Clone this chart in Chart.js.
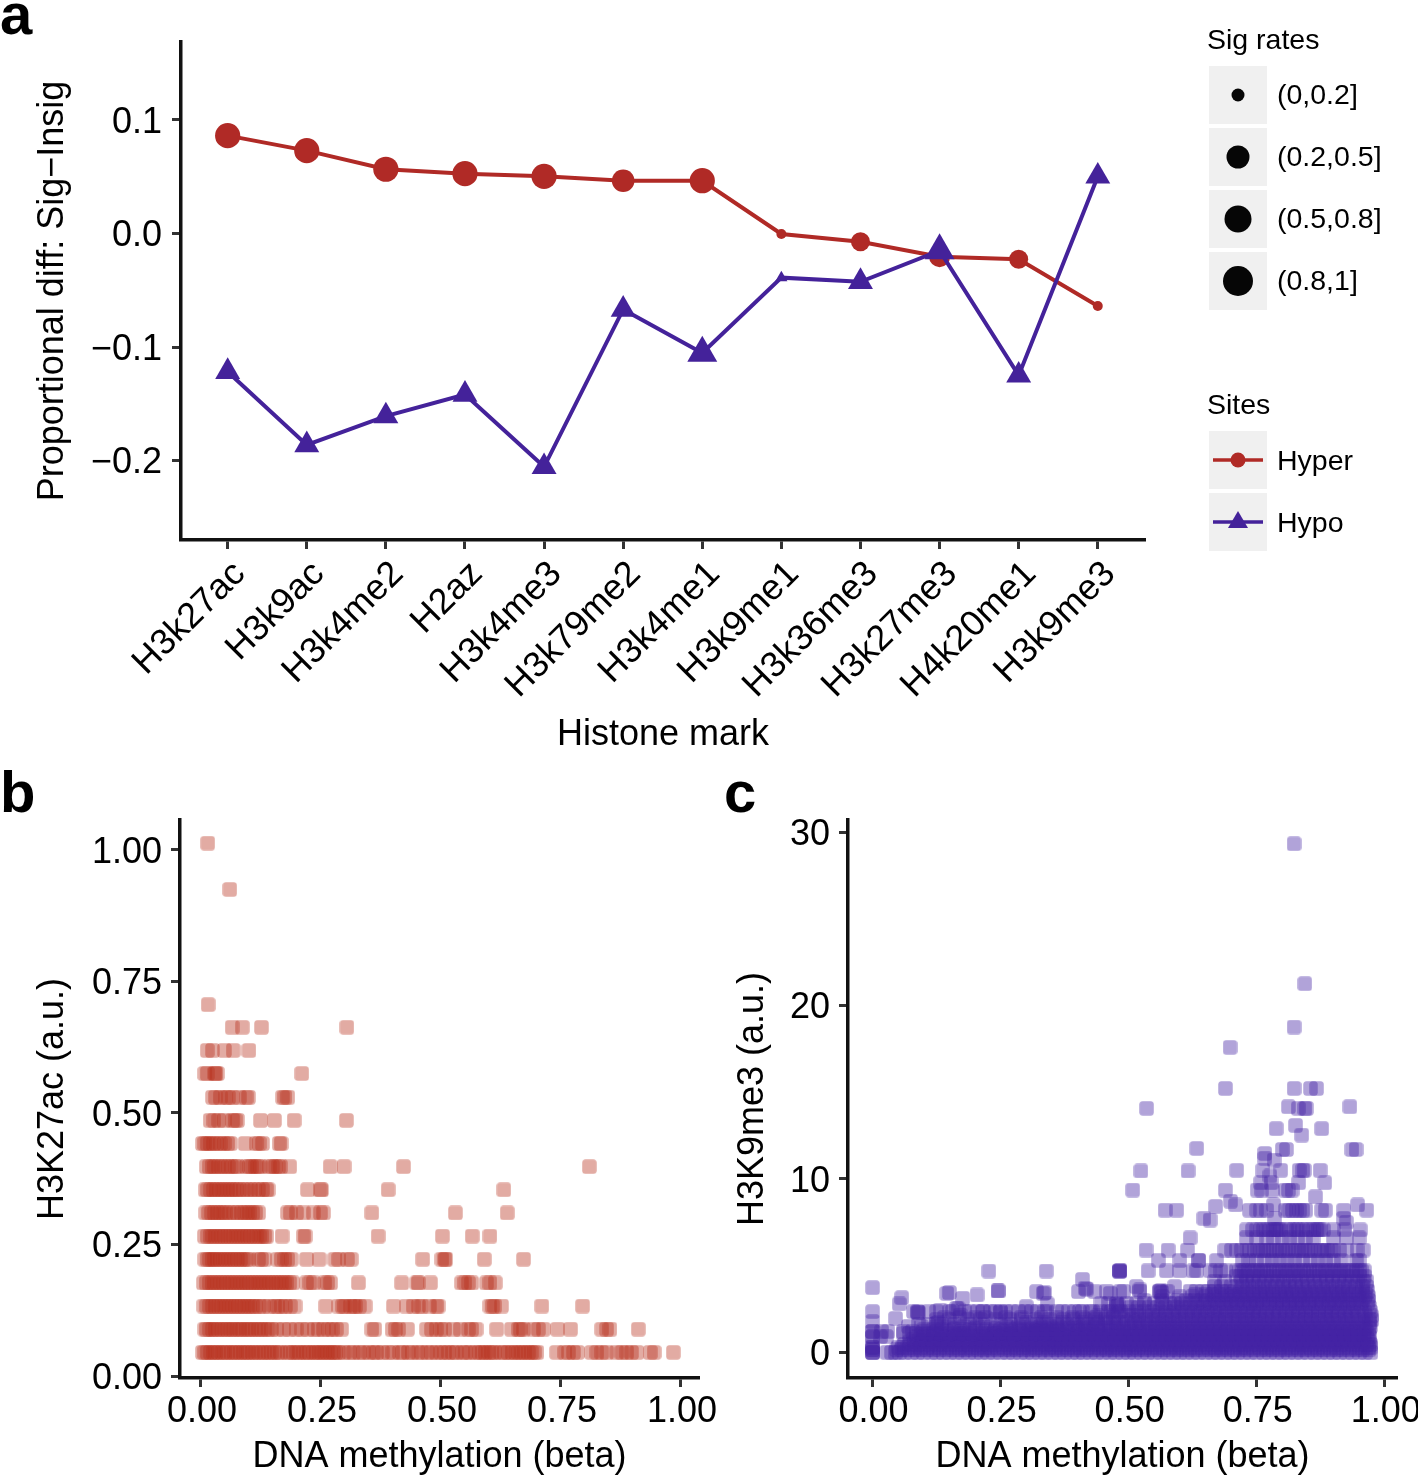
<!DOCTYPE html>
<html>
<head>
<meta charset="utf-8">
<title>Histone marks and DNA methylation</title>
<script src="https://cdn.jsdelivr.net/npm/chart.js@4"></script>
<style>
html, body { margin: 0; padding: 0; background: #fff; }
#page { position: relative; width: 1418px; height: 1477px; overflow: hidden; }
canvas { position: absolute; display: block; }
.letter { position: absolute; font: bold 58px/58px "Liberation Sans", Arial, sans-serif; color: #000; }
</style>
</head>
<body>
<div id="page">
  <canvas id="histoneChart" width="1418" height="760" style="left:0;top:0;width:1418px;height:760px"></canvas>
  <canvas id="acChart" width="720" height="719" style="left:0;top:760px;width:720px;height:719px"></canvas>
  <canvas id="meChart" width="698" height="719" style="left:720px;top:760px;width:698px;height:719px"></canvas>
  <div class="letter" style="left:0;top:-15px">a</div>
  <div class="letter" style="left:0;top:763px">b</div>
  <div class="letter" style="left:724px;top:763px">c</div>
</div>
<script>
// panel a
const histoneMarks = ["H3k27ac","H3k9ac","H3k4me2","H2az","H3k4me3","H3k79me2","H3k4me1","H3k9me1","H3k36me3","H3k27me3","H4k20me1","H3k9me3"];
const hyperValues = [0.0862,0.0730,0.0566,0.0527,0.0504,0.0465,0.0465,-0.0004,-0.0072,-0.0204,-0.0227,-0.0639];
const hypoValues = [-0.1218,-0.1863,-0.1608,-0.1418,-0.2055,-0.0669,-0.1053,-0.0389,-0.0425,-0.0151,-0.125,0.0503];
const hyperRadius = [12.6,12.6,12.6,12.6,12.6,11.3,12.6,5,9.5,10.5,9.5,5];
const hypoRadius = [14.4,14.4,14.4,14.4,14.4,14.4,17.3,7,14.4,17.3,14.4,14.4];
const histoneYTicks = [-0.2,-0.1,0,0.1];
const sigLabels = ["(0,0.2]","(0.2,0.5]","(0.5,0.8]","(0.8,1]"];
const sigRadius = [6.5,11.5,13.5,15];
const siteLabels = ["Hyper","Hypo"];

// panel b, one list of x values per y level
const acRowY = [0.045,0.089,0.133,0.177,0.222,0.266,0.31,0.354,0.398,0.442,0.486,0.53,0.575,0.619,0.663,0.706,0.925,1.013];
const acX01 = [0.003,0.008,0.013,0.02,0.026,0.031,0.037,0.044,0.05,0.056,0.063,0.069,0.075,0.082,0.088,0.094,0.1,0.107,0.113,0.12,0.127,0.133,0.14,0.146,0.153,0.16,0.166,0.18,0.186,0.193,0.2,0.206,0.214,0.22,0.226,0.234,0.24,0.246,0.252,0.258,0.264,0.27,0.276,0.281,0.287,0.298,0.31,0.318,0.33,0.338,0.35,0.36,0.366,0.378,0.39,0.4,0.414,0.42,0.432,0.44,0.452,0.46,0.471,0.48,0.49,0.5,0.508,0.516,0.525,0.532,0.545,0.552,0.56,0.572,0.58,0.586,0.592,0.6,0.606,0.612,0.625,0.632,0.64,0.648,0.655,0.662,0.668,0.675,0.682,0.688,0.694,0.7,0.741,0.758,0.766,0.776,0.784,0.814,0.825,0.835,0.845,0.866,0.877,0.887,0.897,0.908,0.936,0.944,0.984];
const acX02 = [0.008,0.012,0.018,0.024,0.03,0.036,0.043,0.05,0.055,0.062,0.068,0.075,0.081,0.087,0.094,0.1,0.106,0.113,0.12,0.126,0.133,0.14,0.147,0.158,0.172,0.184,0.198,0.21,0.222,0.236,0.244,0.255,0.265,0.273,0.282,0.293,0.356,0.362,0.398,0.405,0.412,0.43,0.47,0.48,0.49,0.5,0.508,0.526,0.54,0.557,0.564,0.573,0.616,0.647,0.661,0.665,0.672,0.693,0.703,0.713,0.743,0.77,0.835,0.845,0.852,0.911];
const acX03 = [0.006,0.012,0.018,0.024,0.03,0.036,0.042,0.048,0.054,0.06,0.066,0.072,0.078,0.084,0.09,0.096,0.102,0.108,0.114,0.122,0.13,0.142,0.154,0.16,0.168,0.176,0.186,0.196,0.26,0.287,0.295,0.3,0.312,0.318,0.322,0.33,0.342,0.401,0.428,0.442,0.453,0.46,0.476,0.49,0.494,0.602,0.607,0.612,0.626,0.71,0.795];
const acX04 = [0.005,0.011,0.017,0.023,0.029,0.035,0.041,0.047,0.053,0.059,0.065,0.071,0.077,0.083,0.089,0.095,0.101,0.107,0.113,0.119,0.125,0.131,0.137,0.143,0.149,0.155,0.161,0.167,0.173,0.179,0.185,0.191,0.22,0.227,0.234,0.258,0.264,0.27,0.328,0.418,0.45,0.453,0.478,0.543,0.55,0.557,0.564,0.595,0.602,0.613];
const acX05 = [0.008,0.013,0.018,0.023,0.028,0.034,0.04,0.046,0.052,0.058,0.064,0.07,0.076,0.082,0.088,0.094,0.1,0.12,0.126,0.133,0.16,0.167,0.175,0.181,0.188,0.22,0.246,0.279,0.287,0.305,0.313,0.462,0.502,0.508,0.51,0.59,0.672];
const acX06 = [0.007,0.013,0.019,0.025,0.031,0.037,0.043,0.049,0.055,0.061,0.067,0.073,0.079,0.085,0.091,0.097,0.103,0.109,0.115,0.121,0.127,0.133,0.137,0.169,0.213,0.217,0.369,0.503,0.565,0.602];
const acX07 = [0.01,0.016,0.022,0.028,0.034,0.04,0.046,0.052,0.06,0.068,0.076,0.084,0.09,0.096,0.102,0.108,0.114,0.12,0.18,0.186,0.199,0.213,0.234,0.249,0.255,0.356,0.53,0.638];
const acX08 = [0.009,0.014,0.02,0.026,0.032,0.038,0.044,0.05,0.056,0.062,0.068,0.074,0.08,0.088,0.096,0.104,0.112,0.12,0.128,0.136,0.14,0.222,0.248,0.251,0.39,0.631];
const acX09 = [0.011,0.017,0.023,0.029,0.036,0.043,0.05,0.057,0.064,0.071,0.076,0.095,0.101,0.106,0.113,0.118,0.123,0.142,0.149,0.155,0.161,0.166,0.185,0.269,0.298,0.422,0.809];
const acX10 = [0.003,0.008,0.013,0.019,0.026,0.033,0.04,0.048,0.056,0.061,0.092,0.115,0.121,0.128,0.163,0.167];
const acX11 = [0.019,0.027,0.037,0.048,0.066,0.071,0.076,0.124,0.153,0.194,0.303];
const acX12 = [0.024,0.03,0.04,0.052,0.057,0.066,0.08,0.094,0.099,0.17,0.175,0.181];
const acX13 = [0.008,0.013,0.029,0.031,0.034,0.21];
const acX14 = [0.013,0.024,0.049,0.067,0.1];
const acX15 = [0.065,0.086,0.126,0.304];
const acX16 = [0.015];
const acX17 = [0.06];
const acX18 = [0.014];
const acRowX = [acX01,acX02,acX03,acX04,acX05,acX06,acX07,acX08,acX09,acX10,acX11,acX12,acX13,acX14,acX15,acX16,acX17,acX18];
const acXTicks = [0,0.25,0.5,0.75,1];
const acYTicks = [0,0.25,0.5,0.75,1];

// panel c, dense levels first, then the loose points
const meRowY = [0,0.3,0.6,0.9,1.2,1.5,1.88,2.35,2.82,3.2,3.53,4.1,4.7,5.3,5.9,6.6,7.06,0.15,0.45,0.75,1.05,1.35,1.7,2.1,2.6,3.0,3.35,3.8,4.4,1.1,1.3,1.6,2.0,2.35,5.9,7.06,4.7];
const meX01 = [0,0,0,0.028,0.037,0.044,0.052,0.063,0.076,0.088,0.1,0.114,0.125,0.138,0.15,0.163,0.175,0.188,0.2,0.212,0.225,0.237,0.25,0.263,0.275,0.288,0.3,0.312,0.325,0.337,0.35,0.363,0.375,0.388,0.4,0.412,0.425,0.437,0.45,0.463,0.475,0.488,0.5,0.512,0.525,0.537,0.55,0.563,0.575,0.588,0.6,0.612,0.625,0.637,0.65,0.663,0.675,0.688,0.7,0.712,0.725,0.737,0.75,0.763,0.775,0.788,0.8,0.812,0.825,0.837,0.85,0.863,0.875,0.888,0.9,0.912,0.925,0.937,0.95,0.962,0.973];
const meX02 = [0,0,0.05,0.058,0.069,0.081,0.094,0.107,0.119,0.131,0.144,0.156,0.169,0.181,0.194,0.206,0.219,0.231,0.244,0.256,0.269,0.281,0.294,0.306,0.319,0.331,0.344,0.356,0.369,0.381,0.394,0.406,0.419,0.431,0.444,0.456,0.469,0.481,0.494,0.506,0.519,0.531,0.544,0.556,0.569,0.581,0.594,0.606,0.619,0.631,0.644,0.656,0.669,0.681,0.694,0.706,0.719,0.731,0.744,0.756,0.769,0.781,0.794,0.806,0.819,0.831,0.844,0.856,0.869,0.881,0.894,0.906,0.919,0.931,0.944,0.956,0.968,0.973];
const meX03 = [0.072,0.082,0.095,0.108,0.12,0.133,0.145,0.158,0.17,0.183,0.195,0.208,0.22,0.233,0.245,0.258,0.27,0.283,0.295,0.308,0.32,0.333,0.345,0.358,0.37,0.383,0.395,0.408,0.42,0.433,0.445,0.458,0.47,0.483,0.495,0.508,0.52,0.533,0.545,0.558,0.57,0.583,0.595,0.608,0.62,0.633,0.645,0.658,0.67,0.683,0.695,0.708,0.72,0.733,0.745,0.758,0.77,0.783,0.795,0.808,0.82,0.833,0.845,0.858,0.87,0.883,0.895,0.908,0.92,0.933,0.945,0.958,0.97];
const meX04 = [0,0,0.015,0.027,0.086,0.098,0.113,0.127,0.14,0.154,0.166,0.18,0.193,0.207,0.219,0.232,0.246,0.259,0.272,0.285,0.298,0.311,0.324,0.337,0.35,0.362,0.374,0.387,0.399,0.411,0.423,0.436,0.448,0.46,0.473,0.485,0.497,0.51,0.522,0.535,0.547,0.56,0.572,0.584,0.597,0.61,0.622,0.634,0.647,0.66,0.672,0.684,0.697,0.71,0.722,0.734,0.747,0.76,0.772,0.784,0.797,0.81,0.822,0.834,0.847,0.86,0.872,0.884,0.897,0.91,0.922,0.934,0.947,0.96,0.97];
const meX05 = [0,0,0.018,0.03,0.06,0.078,0.1,0.125,0.145,0.172,0.2,0.22,0.238,0.256,0.272,0.29,0.306,0.32,0.336,0.35,0.363,0.376,0.39,0.402,0.415,0.428,0.44,0.453,0.466,0.478,0.49,0.503,0.515,0.527,0.54,0.552,0.565,0.577,0.59,0.602,0.615,0.627,0.64,0.652,0.665,0.677,0.69,0.702,0.715,0.727,0.74,0.752,0.765,0.777,0.79,0.802,0.815,0.827,0.84,0.852,0.865,0.877,0.89,0.902,0.915,0.927,0.94,0.952,0.965];
const meX06 = [0.07,0.095,0.125,0.148,0.178,0.205,0.232,0.262,0.285,0.31,0.328,0.346,0.362,0.38,0.396,0.412,0.428,0.445,0.46,0.476,0.49,0.506,0.522,0.536,0.552,0.566,0.58,0.594,0.61,0.624,0.638,0.652,0.667,0.68,0.695,0.71,0.724,0.738,0.752,0.766,0.78,0.794,0.808,0.822,0.836,0.85,0.864,0.878,0.892,0.906,0.92,0.934,0.948,0.962,0.972];
const meX07 = [0.125,0.15,0.185,0.21,0.24,0.268,0.29,0.318,0.345,0.372,0.392,0.415,0.436,0.455,0.475,0.49,0.506,0.52,0.535,0.55,0.565,0.578,0.592,0.606,0.62,0.634,0.648,0.662,0.676,0.69,0.704,0.718,0.732,0.746,0.76,0.774,0.788,0.802,0.816,0.83,0.844,0.858,0.872,0.886,0.9,0.914,0.928,0.942,0.956,0.97,0.975];
const meX08 = [0.088,0.125,0.156,0.18,0.205,0.23,0.25,0.272,0.298,0.322,0.34,0.36,0.382,0.404,0.425,0.445,0.466,0.484,0.5,0.516,0.53,0.546,0.56,0.574,0.588,0.602,0.614,0.628,0.64,0.654,0.667,0.68,0.692,0.706,0.718,0.732,0.744,0.756,0.77,0.782,0.794,0.808,0.82,0.832,0.846,0.858,0.87,0.884,0.896,0.908,0.922,0.934,0.946,0.96,0.972];
const meX09 = [0.446,0.46,0.477,0.496,0.515,0.531,0.55,0.566,0.58,0.59,0.604,0.62,0.632,0.648,0.66,0.676,0.69,0.7,0.712,0.726,0.738,0.75,0.762,0.776,0.788,0.8,0.814,0.826,0.838,0.852,0.864,0.876,0.89,0.902,0.914,0.928,0.94,0.952,0.966];
const meX10 = [0.566,0.6,0.624,0.65,0.668,0.68,0.694,0.706,0.72,0.732,0.744,0.758,0.77,0.782,0.796,0.808,0.82,0.834,0.846,0.858,0.872,0.884,0.896,0.91,0.922,0.934,0.948,0.96,0.968];
const meX11 = [0.457,0.49,0.522,0.56,0.575,0.62,0.632,0.645,0.656,0.668,0.682,0.694,0.706,0.718,0.73,0.744,0.756,0.768,0.78,0.794,0.806,0.818,0.83,0.844,0.856,0.868,0.88,0.894,0.906,0.918,0.93,0.944,0.956,0.967];
const meX12 = [0.668,0.688,0.72,0.73,0.742,0.754,0.766,0.778,0.79,0.802,0.814,0.826,0.838,0.85,0.862,0.874,0.886,0.898,0.91,0.922,0.934,0.946,0.958,0.965];
const meX13 = [0.483,0.483,0.538,0.574,0.6,0.626,0.633,0.66,0.67,0.68,0.69,0.717,0.727,0.74,0.752,0.764,0.776,0.788,0.8,0.812,0.824,0.836,0.848,0.86,0.872,0.884,0.896,0.908,0.92,0.932,0.944,0.954,0.96];
const meX14 = [0.558,0.6,0.637,0.637,0.672,0.722,0.735,0.75,0.766,0.78,0.795,0.81,0.824,0.84,0.855,0.87,0.885,0.9,0.915,0.945,0.95];
const meX15 = [0.534,0.577,0.615,0.688,0.701,0.711,0.73,0.745,0.758,0.77,0.782,0.794,0.806,0.82,0.832,0.844,0.856,0.87,0.882,0.896,0.926,0.946,0.958];
const meX16 = [0.62,0.73,0.75,0.77,0.782,0.8,0.815,0.83,0.845,0.86,0.9,0.925,0.95];
const meX17 = [0.73,0.75,0.763,0.776,0.783,0.789,0.796,0.815,0.832,0.84,0.854,0.867,0.874,0.9,0.922,0.952];
const meX18 = [0,0,0.047,0.057,0.07,0.082,0.094,0.106,0.119,0.131,0.144,0.157,0.169,0.181,0.194,0.206,0.218,0.231,0.244,0.257,0.269,0.281,0.294,0.306,0.318,0.331,0.344,0.357,0.369,0.381,0.394,0.406,0.418,0.431,0.444,0.457,0.469,0.481,0.494,0.506,0.518,0.531,0.544,0.557,0.569,0.581,0.594,0.606,0.618,0.631,0.644,0.657,0.669,0.681,0.694,0.706,0.718,0.731,0.744,0.757,0.769,0.781,0.794,0.806,0.818,0.831,0.844,0.857,0.869,0.881,0.894,0.906,0.918,0.931,0.944,0.957,0.969];
const meX19 = [0.062,0.075,0.088,0.101,0.114,0.127,0.139,0.151,0.164,0.176,0.189,0.201,0.214,0.226,0.239,0.251,0.264,0.276,0.289,0.301,0.314,0.326,0.339,0.351,0.364,0.376,0.389,0.401,0.414,0.426,0.439,0.451,0.464,0.476,0.489,0.501,0.514,0.526,0.539,0.551,0.564,0.576,0.589,0.601,0.614,0.626,0.639,0.651,0.664,0.676,0.689,0.701,0.714,0.726,0.739,0.751,0.764,0.776,0.789,0.801,0.814,0.826,0.839,0.851,0.864,0.876,0.889,0.901,0.914,0.926,0.939,0.951,0.964,0.972];
const meX20 = [0.08,0.092,0.104,0.117,0.133,0.146,0.16,0.173,0.187,0.2,0.213,0.226,0.24,0.253,0.266,0.279,0.292,0.305,0.318,0.331,0.343,0.356,0.368,0.381,0.393,0.405,0.417,0.43,0.442,0.454,0.467,0.479,0.491,0.504,0.516,0.529,0.541,0.554,0.566,0.578,0.591,0.603,0.616,0.628,0.641,0.653,0.666,0.678,0.691,0.703,0.716,0.728,0.741,0.753,0.766,0.778,0.791,0.803,0.816,0.828,0.841,0.853,0.866,0.878,0.891,0.903,0.916,0.928,0.941,0.953,0.966];
const meX21 = [0.095,0.12,0.146,0.165,0.186,0.212,0.236,0.255,0.27,0.292,0.31,0.328,0.344,0.356,0.369,0.382,0.396,0.408,0.421,0.434,0.446,0.459,0.472,0.484,0.496,0.509,0.521,0.534,0.546,0.559,0.571,0.584,0.596,0.609,0.621,0.634,0.646,0.659,0.671,0.684,0.696,0.709,0.721,0.734,0.746,0.759,0.771,0.784,0.796,0.809,0.821,0.834,0.846,0.859,0.871,0.884,0.896,0.909,0.921,0.934,0.946,0.959,0.969];
const meX22 = [0.16,0.2,0.24,0.28,0.312,0.33,0.35,0.368,0.384,0.4,0.416,0.432,0.448,0.462,0.476,0.49,0.504,0.518,0.532,0.546,0.56,0.573,0.586,0.6,0.613,0.626,0.64,0.653,0.666,0.68,0.693,0.706,0.72,0.733,0.746,0.76,0.773,0.786,0.8,0.813,0.826,0.84,0.853,0.866,0.88,0.893,0.906,0.92,0.933,0.946,0.96,0.97];
const meX23 = [0.3,0.334,0.37,0.41,0.44,0.462,0.48,0.497,0.511,0.524,0.538,0.552,0.566,0.58,0.594,0.608,0.622,0.636,0.65,0.664,0.678,0.692,0.706,0.72,0.734,0.748,0.762,0.776,0.79,0.804,0.818,0.832,0.846,0.86,0.874,0.888,0.902,0.916,0.93,0.944,0.958,0.971];
const meX24 = [0.44,0.47,0.493,0.507,0.52,0.533,0.546,0.559,0.572,0.585,0.598,0.611,0.624,0.637,0.65,0.663,0.676,0.689,0.702,0.715,0.728,0.741,0.754,0.767,0.78,0.793,0.806,0.819,0.832,0.845,0.858,0.871,0.884,0.897,0.91,0.923,0.936,0.949,0.962,0.974];
const meX25 = [0.504,0.52,0.54,0.557,0.572,0.59,0.604,0.618,0.632,0.646,0.66,0.674,0.688,0.702,0.716,0.73,0.744,0.758,0.772,0.786,0.8,0.814,0.828,0.842,0.856,0.87,0.884,0.898,0.912,0.926,0.94,0.954,0.97];
const meX26 = [0.53,0.565,0.595,0.612,0.628,0.642,0.656,0.67,0.684,0.698,0.71,0.723,0.736,0.749,0.762,0.775,0.788,0.801,0.814,0.827,0.84,0.853,0.866,0.879,0.892,0.905,0.918,0.931,0.944,0.957,0.968];
const meX27 = [0.63,0.65,0.664,0.676,0.69,0.703,0.716,0.729,0.742,0.755,0.768,0.781,0.794,0.807,0.82,0.833,0.846,0.859,0.872,0.885,0.898,0.911,0.924,0.937,0.95,0.963];
const meX28 = [0.668,0.682,0.7,0.71,0.722,0.735,0.748,0.761,0.774,0.787,0.8,0.813,0.826,0.839,0.852,0.865,0.878,0.891,0.904,0.917,0.93,0.943,0.956,0.964];
const meX29 = [0.71,0.718,0.73,0.743,0.756,0.769,0.782,0.795,0.808,0.821,0.834,0.847,0.86,0.873,0.886,0.899,0.912,0.925,0.938,0.951,0.96];
const meX30 = [0.06,0.072,0.085,0.105,0.118,0.132,0.15,0.17,0.178,0.195,0.217,0.228,0.243,0.262,0.275,0.3,0.318,0.335];
const meX31 = [0.1,0.118,0.135,0.158,0.176,0.19,0.222,0.25,0.268,0.286,0.304,0.32,0.34,0.36];
const meX32 = [0.09,0.11,0.135,0.16,0.19,0.215,0.25,0.27,0.295,0.32,0.34,0.36,0.38,0.4,0.42,0.44];
const meX33 = [0.14,0.17,0.2,0.22,0.26,0.29,0.33,0.36,0.39,0.41,0.435,0.455,0.47];
const meX34 = [0.08,0.11,0.15,0.19,0.215,0.24,0.26,0.285,0.31,0.335,0.37,0.395,0.41,0.43,0.46,0.48];
const meX35 = [0.72,0.736,0.752,0.764,0.776,0.788,0.8,0.812,0.826,0.838,0.85,0.862,0.876,0.888,0.9,0.912];
const meX36 = [0.742,0.757,0.77,0.786,0.793,0.808,0.822,0.828,0.847,0.86,0.87,0.88];
const meX37 = [0.71,0.723,0.734,0.746,0.758,0.77,0.782,0.794,0.806,0.818,0.83,0.842,0.854,0.866,0.878,0.89,0.902,0.914,0.926,0.938,0.95];
const meRowX = [meX01,meX02,meX03,meX04,meX05,meX06,meX07,meX08,meX09,meX10,meX11,meX12,meX13,meX14,meX15,meX16,meX17,meX18,meX19,meX20,meX21,meX22,meX23,meX24,meX25,meX26,meX27,meX28,meX29,meX30,meX31,meX32,meX33,meX34,meX35,meX36,meX37];
const meLooseX = [0.823,0.844,0.823,0.698,0.689,0.823,0.855,0.867,0.535,0.812,0.831,0.844,0.847,0.932,0.788,0.826,0.838,0.877,0.633,0.8,0.808,0.766,0.766,0.784,0.936,0.944,0.524,0.616,0.711,0.762,0.797,0.833,0.84,0.843,0.874,0.508,0.689,0.776,0.758,0.778,0.883,0.832,0.751,0.76,0.78,0.806,0.812,0.819,0.865,0.571,0.594,0.67,0.699,0.709,0.736,0.75,0.757,0.77,0.783,0.806,0.813,0.82,0.827,0.834,0.84,0.846,0.877,0.884,0.92,0.947,0.965,0.647,0.785,0.92,0.659,0.925,0.227,0.339,0.482,0.482,0.41,0.245,0.245,0.145,0.15,0.204,0.176,0.057,0.052,0.088,0.09,0.045,0.32,0.333,0.336,0.341,0.402,0.415,0.418,0.434,0.464,0.483,0.477,0.3,0.164,0.167,0.171,0.132,0.125,0.128,0.216,0.249,0,0,0,0.522,0.515,0.561,0.563,0.565,0.59,0.477,0.48];
const meLooseY = [29.33,21.26,18.76,17.59,15.22,15.22,15.22,15.22,14.07,14.16,14.07,14.07,14.07,14.16,12.9,13.09,12.53,12.9,11.76,11.7,11.7,11.47,11.2,11.09,11.7,11.7,10.46,10.46,10.5,10.5,10.5,10.5,10.5,10.5,10.5,9.36,9.36,10.17,9.78,9.78,9.78,9.78,9.36,9.36,9.36,9.36,9.36,9.36,8.97,8.2,8.2,8.42,8.72,8.5,8.2,8.2,8.2,8.2,8.5,8.2,8.2,8.2,8.2,8.2,8.2,8.2,8.2,8.2,8.2,8.5,8.2,7.73,7.73,7.73,7.63,7.5,4.69,4.69,4.69,4.69,4.21,3.54,3.54,3.4,3.45,3.31,3.12,3.15,2.79,2.29,2.29,1.96,3.5,3.4,3.45,2.79,3.5,3.69,3.65,3.5,3.4,3.5,2.63,2.63,2.54,2.5,2.15,2.44,1.67,1.7,2.35,2.3,3.73,2.35,1.77,3.6,3.79,3.5,3.55,3.45,3.79,2.73,2.7];
const meXTicks = [0,0.25,0.5,0.75,1];
const meYTicks = [0,10,20,30];

const redColor = "#b02a26";
const purpleColor = "#44229a";
const fontName = "'Liberation Sans', Arial, sans-serif";

function fixWidth(w){
    return s => {
        s.width = w;
        s.paddingTop = s.paddingBottom = s.paddingLeft = s.paddingRight = 0;
    };
}

function fixHeight(h){
    return s => {
        s.height = h;
        s.paddingTop = s.paddingBottom = s.paddingLeft = s.paddingRight = 0;
    };
}

function useTicks(list){
    return s => {
        s.ticks = list.map(v => ({value: v}));
    };
}

function axisOptions(min, max, tickList, format, titleText, titlePad, fit, tickPad, labelOffset){
    return {
        type: "linear",
        min: min,
        max: max,
        afterBuildTicks: useTicks(tickList),
        afterFit: fit,
        border: {display: true, color: "#111", width: 3.5},
        grid: {drawOnChartArea: false, drawTicks: true, tickLength: 9, tickWidth: 3, tickColor: "#333"},
        ticks: {
            color: "#000",
            font: {family: fontName, size: 36},
            padding: tickPad,
            labelOffset: labelOffset,
            autoSkip: false,
            maxRotation: 0,
            callback: format
        },
        title: {
            display: true,
            text: titleText,
            color: "#000",
            font: {family: fontName, size: 36},
            padding: titlePad
        }
    };
}

// rounded square used as the scatter mark
function makeMarker(color){
    const c = document.createElement("canvas");
    c.width = 15;
    c.height = 15;
    const ctx = c.getContext("2d");
    ctx.fillStyle = color;
    ctx.beginPath();
    ctx.roundRect(0.25, 0.25, 14.5, 14.5, 3.5);
    ctx.fill();
    return c;
}

// legend of panel a, drawn next to the plot
const sideLegend = {
    id: "sideLegend",
    afterDraw(chart){
        const ctx = chart.ctx;
        ctx.save();
        ctx.fillStyle = "#000";
        ctx.font = "28.5px " + fontName;
        ctx.textAlign = "left";
        ctx.textBaseline = "alphabetic";
        ctx.fillText("Sig rates", 1207, 49);
        ctx.fillText("Sites", 1207, 414);
        ctx.textBaseline = "middle";
        sigLabels.forEach((label, i) => {
            const y = 95 + i * 62;
            ctx.fillStyle = "#f0f0f0";
            ctx.fillRect(1209, y - 29, 58, 58);
            ctx.fillStyle = "#060606";
            ctx.beginPath();
            ctx.arc(1238, y, sigRadius[i], 0, Math.PI * 2);
            ctx.fill();
            ctx.fillStyle = "#000";
            ctx.fillText(label, 1277, y + 1);
        });
        siteLabels.forEach((label, i) => {
            const y = 460 + i * 62;
            const color = i === 0 ? redColor : purpleColor;
            ctx.fillStyle = "#f0f0f0";
            ctx.fillRect(1209, y - 29, 58, 58);
            ctx.strokeStyle = color;
            ctx.lineWidth = 3.5;
            ctx.beginPath();
            ctx.moveTo(1213, y);
            ctx.lineTo(1263, y);
            ctx.stroke();
            ctx.fillStyle = color;
            ctx.beginPath();
            if(i === 0){
                ctx.arc(1238, y, 7.5, 0, Math.PI * 2);
            }else{
                ctx.moveTo(1238, y - 11);
                ctx.lineTo(1248, y + 6);
                ctx.lineTo(1228, y + 6);
                ctx.closePath();
            }
            ctx.fill();
            ctx.fillStyle = "#000";
            ctx.fillText(label, 1277, y + 2);
        });
        ctx.restore();
    }
};

function createHistoneChart(){

    const xAxis = axisOptions(-0.59, 11.597, histoneMarks.map((m, i) => i), v => histoneMarks[v], "Histone mark", {top: 0, bottom: 0}, fixHeight(217), 4, 12);
    xAxis.ticks.minRotation = 45;
    xAxis.ticks.maxRotation = 45;

    const yAxis = axisOptions(-0.27, 0.1687, histoneYTicks, v => v === 0 ? "0.0" : (v < 0 ? "\u2212" : "") + Math.abs(v).toFixed(1), "Proportional diff: Sig\u2212Insig", {top: 31, bottom: 0}, fixWidth(181), 10, 3);

    new Chart(document.getElementById("histoneChart"), {
        type: "line",
        plugins: [sideLegend],
        data: {
            datasets: [{
                label: "Hypo",
                order: 1,
                data: hypoValues.map((v, i) => ({x: i, y: v})),
                borderColor: purpleColor,
                borderWidth: 4,
                tension: 0,
                pointStyle: "triangle",
                pointRadius: hypoRadius,
                pointBorderWidth: 0,
                pointBackgroundColor: purpleColor
            }, {
                label: "Hyper",
                order: 2,
                data: hyperValues.map((v, i) => ({x: i, y: v})),
                borderColor: redColor,
                borderWidth: 4,
                tension: 0,
                pointStyle: "circle",
                pointRadius: hyperRadius,
                pointBorderWidth: 0,
                pointBackgroundColor: redColor
            }]
        },
        options: {
            responsive: false,
            animation: false,
            events: [],
            layout: {padding: {left: 0, top: 42, right: 273, bottom: 3}},
            plugins: {legend: {display: false}, tooltip: {enabled: false}},
            scales: {x: xAxis, y: yAxis}
        }
    });

}

function createScatterChart(id, points, color, opts){

    new Chart(document.getElementById(id), {
        type: "scatter",
        data: {
            datasets: [{
                data: points,
                pointStyle: makeMarker(color),
                pointRadius: 7.5,
                pointBorderWidth: 0,
                clip: false
            }]
        },
        options: {
            responsive: false,
            animation: false,
            events: [],
            layout: {padding: {left: 0, top: 60, right: 21, bottom: 0}},
            plugins: {legend: {display: false}, tooltip: {enabled: false}},
            scales: {x: opts.x, y: opts.y}
        }
    });

}

function rowPoints(rowY, rowX){
    return rowY.flatMap((y, i) => rowX[i].map(x => ({x: x, y: y})));
}

createHistoneChart();

createScatterChart("acChart", rowPoints(acRowY, acRowX), "rgba(182,44,26,0.4)", {
    x: axisOptions(-0.0437, 1.0375, acXTicks, v => v.toFixed(2), "DNA methylation (beta)", {top: 0, bottom: 0}, fixHeight(101), 3, 1),
    y: axisOptions(-0.0038, 1.057, acYTicks, v => v.toFixed(2), "H3K27ac (a.u.)", {top: 31, bottom: 0}, fixWidth(180), 9, 3)
});

const mePoints = rowPoints(meRowY, meRowX).concat(meLooseX.map((x, i) => ({x: x, y: meLooseY[i]})));

createScatterChart("meChart", mePoints, "rgba(70,36,165,0.42)", {
    x: axisOptions(-0.048, 1.024, meXTicks, v => v.toFixed(2), "DNA methylation (beta)", {top: 0, bottom: 0}, fixHeight(101), 3, 1),
    y: axisOptions(-1.48, 30.7, meYTicks, v => String(v), "H3K9me3 (a.u.)", {top: 11, bottom: 0}, fixWidth(128), 9, 3)
});
</script>
</body>
</html>
